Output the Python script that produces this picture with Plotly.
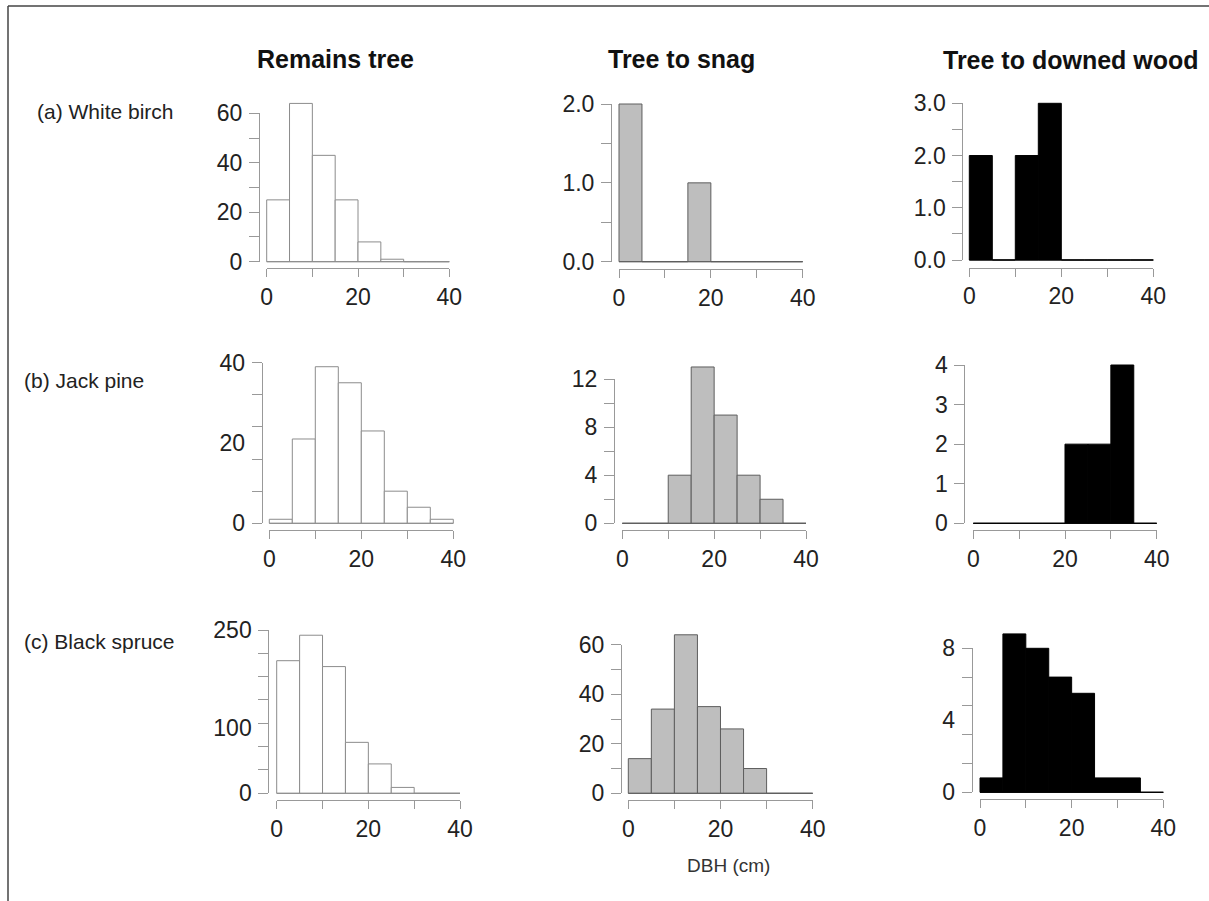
import plotly.graph_objects as go

W, H = 1209, 901

# ---------------- data ----------------
bin_edges = [0, 5, 10, 15, 20, 25, 30, 35, 40]
x_tickvals = [0, 10, 20, 30, 40]
x_ticktext = ["0", "", "20", "", "40"]

col_titles = ["Remains tree", "Tree to snag", "Tree to downed wood"]
row_labels = ["(a) White birch", "(b) Jack pine", "(c) Black spruce"]
x_title = "DBH (cm)"

birch_remain = [25, 64, 43, 25, 8, 1, 0, 0]
birch_snag = [2, 0, 0, 1, 0, 0, 0, 0]
birch_down = [2, 0, 2, 3, 0, 0, 0, 0]
pine_remain = [1, 21, 39, 35, 23, 8, 4, 1]
pine_snag = [0, 0, 4, 13, 9, 4, 2, 0]
pine_down = [0, 0, 0, 0, 2, 2, 4, 0]
spruce_remain = [203, 242, 194, 78, 45, 9, 0, 0]
spruce_snag = [14, 34, 64, 35, 26, 10, 0, 0]
spruce_down = [0.8, 8.8, 8.0, 6.4, 5.5, 0.8, 0.8, 0]

# y tick marks, labelled ticks and their texts
birch_remain_marks = [0, 10, 20, 30, 40, 50, 60]
birch_remain_labels = [0, 20, 40, 60]
birch_remain_texts = ["0", "20", "40", "60"]
birch_snag_marks = [0, 0.5, 1, 1.5, 2]
birch_snag_labels = [0, 1, 2]
birch_snag_texts = ["0.0", "1.0", "2.0"]
birch_down_marks = [0, 0.5, 1, 1.5, 2, 2.5, 3]
birch_down_labels = [0, 1, 2, 3]
birch_down_texts = ["0.0", "1.0", "2.0", "3.0"]
pine_remain_marks = [0, 8, 16, 24, 32, 40]
pine_remain_labels = [0, 20, 40]
pine_remain_texts = ["0", "20", "40"]
pine_snag_marks = [0, 2, 4, 6, 8, 10, 12]
pine_snag_labels = [0, 4, 8, 12]
pine_snag_texts = ["0", "4", "8", "12"]
pine_down_marks = [0, 1, 2, 3, 4]
pine_down_labels = [0, 1, 2, 3, 4]
pine_down_texts = ["0", "1", "2", "3", "4"]
spruce_remain_marks = [0, 35.7, 71.4, 107.1, 142.9, 178.6, 214.3, 250]
spruce_remain_labels = [0, 100, 250]
spruce_remain_texts = ["0", "100", "250"]
spruce_snag_marks = [0, 10, 20, 30, 40, 50, 60]
spruce_snag_labels = [0, 20, 40, 60]
spruce_snag_texts = ["0", "20", "40", "60"]
spruce_down_marks = [0, 1.6, 3.2, 4.8, 6.4, 8]
spruce_down_labels = [0, 4, 8]
spruce_down_texts = ["0", "4", "8"]

panels = [
    [(birch_remain, birch_remain_marks, birch_remain_labels, birch_remain_texts),
     (birch_snag, birch_snag_marks, birch_snag_labels, birch_snag_texts),
     (birch_down, birch_down_marks, birch_down_labels, birch_down_texts)],
    [(pine_remain, pine_remain_marks, pine_remain_labels, pine_remain_texts),
     (pine_snag, pine_snag_marks, pine_snag_labels, pine_snag_texts),
     (pine_down, pine_down_marks, pine_down_labels, pine_down_texts)],
    [(spruce_remain, spruce_remain_marks, spruce_remain_labels, spruce_remain_texts),
     (spruce_snag, spruce_snag_marks, spruce_snag_labels, spruce_snag_texts),
     (spruce_down, spruce_down_marks, spruce_down_labels, spruce_down_texts)],
]

# ---------------- layout geometry (pixels) ----------------
# yl: y-axis line x, y0: pixel of value 0, yt: pixel of top tick,
# x0/x40: pixel of DBH 0 and 40, xl: x-axis line y
geom = [
    [dict(yl=259, y0=261.7, yt=113.3, x0=266.7, x40=449.3, xl=268.3),
     dict(yl=611, y0=261.7, yt=104, x0=619, x40=802.7, xl=269),
     dict(yl=962.3, y0=260, yt=103.3, x0=969.3, x40=1153.3, xl=267.7)],
    [dict(yl=261.7, y0=523.3, yt=362.7, x0=269.3, x40=453.3, xl=530.3),
     dict(yl=614, y0=523.3, yt=379, x0=622.3, x40=806, xl=530.3),
     dict(yl=964.3, y0=523.3, yt=365, x0=973.3, x40=1156.7, xl=530.3)],
    [dict(yl=268.3, y0=793.3, yt=630, x0=276.7, x40=460, xl=800),
     dict(yl=621, y0=793.3, yt=644.7, x0=628.3, x40=812.7, xl=800),
     dict(yl=971.7, y0=792.3, yt=648.3, x0=980, x40=1163.3, xl=799.3)],
]

styles = [
    dict(fill="white", line="#8c8c8c"),
    dict(fill="#bebebe", line="#5e5e5e"),
    dict(fill="black", line="black"),
]
AXIS_COLOR = "#999999"
FONT = "Liberation Sans, Arial, sans-serif"
TICK_FONT = dict(family=FONT, size=23, color="#222222")


def fx(px):
    return px / W


def fy(py):
    return 1 - py / H


def xname(i):
    return "x" if i == 1 else f"x{i}"


def yname(i):
    return "y" if i == 1 else f"y{i}"


def xkey(i):
    return "xaxis" if i == 1 else f"xaxis{i}"


def ykey(i):
    return "yaxis" if i == 1 else f"yaxis{i}"


fig = go.Figure()
layout_axes = {}
centers = [(bin_edges[i] + bin_edges[i + 1]) / 2 for i in range(len(bin_edges) - 1)]
widths = [bin_edges[i + 1] - bin_edges[i] for i in range(len(bin_edges) - 1)]

k = 0
for r in range(3):
    for c in range(3):
        counts, marks, labvals, labtexts = panels[r][c]
        g = geom[r][c]
        st = styles[c]
        top = marks[-1]
        sx = (g["x40"] - g["x0"]) / 40.0
        sy = (g["y0"] - g["yt"]) / top

        ixD, ixA = 2 * k + 1, 2 * k + 2
        iyD, iyA, iyL = 3 * k + 1, 3 * k + 2, 3 * k + 3

        padx, padb, padt = 4, 4, 45
        layout_axes[xkey(ixD)] = dict(
            domain=[fx(g["x0"] - padx), fx(g["x40"] + padx)],
            range=[-padx / sx, 40 + padx / sx],
            anchor=yname(iyD), visible=False, fixedrange=True, automargin=False)
        layout_axes[ykey(iyD)] = dict(
            domain=[fy(g["y0"] + padb), fy(g["yt"] - padt)],
            range=[-padb / sy, top + padt / sy],
            anchor=xname(ixD), visible=False, fixedrange=True, automargin=False)

        layout_axes[xkey(ixA)] = dict(
            domain=[fx(g["x0"]), fx(g["x40"])], range=[0, 40],
            anchor="free", position=fy(g["xl"]),
            showline=True, linecolor=AXIS_COLOR, linewidth=1,
            ticks="outside", ticklen=8, tickwidth=1, tickcolor=AXIS_COLOR,
            tickmode="array", tickvals=x_tickvals, ticktext=x_ticktext,
            tickfont=TICK_FONT, showgrid=False, zeroline=False, fixedrange=True,
            automargin=False)
        layout_axes[ykey(iyA)] = dict(
            domain=[fy(g["y0"]), fy(g["yt"])], range=[0, top],
            anchor="free", position=fx(g["yl"]),
            showline=True, linecolor=AXIS_COLOR, linewidth=1,
            ticks="outside", ticklen=10, tickwidth=1, tickcolor=AXIS_COLOR,
            tickmode="array", tickvals=marks, showticklabels=False,
            showgrid=False, zeroline=False, fixedrange=True, automargin=False)
        layout_axes[ykey(iyL)] = dict(
            overlaying=yname(iyA), range=[0, top],
            anchor="free", position=fx(g["yl"]),
            showline=False, ticks="outside", ticklen=10,
            tickcolor="rgba(0,0,0,0)",
            tickmode="array", tickvals=labvals, ticktext=labtexts,
            tickfont=TICK_FONT, ticklabelstandoff=2,
            showgrid=False, zeroline=False, fixedrange=True, automargin=False)

        fig.add_trace(go.Bar(
            x=centers, y=counts, width=widths,
            marker=dict(color=st["fill"], line=dict(color=st["line"], width=1)),
            xaxis=xname(ixD), yaxis=yname(iyD), showlegend=False, hoverinfo="skip"))
        fig.add_trace(go.Scatter(
            x=[bin_edges[0], bin_edges[-1]], y=[0, 0], mode="lines",
            line=dict(color=st["line"], width=1),
            xaxis=xname(ixD), yaxis=yname(iyD), showlegend=False, hoverinfo="skip"))
        for yy in (iyA, iyL):
            fig.add_trace(go.Scatter(
                x=[None], y=[None], mode="markers",
                xaxis=xname(ixA), yaxis=yname(yy), showlegend=False, hoverinfo="skip"))
        k += 1

annotations = []
title_pos = [(335, 59), (681, 59), (1071, 60)]
for t, (px, py) in zip(col_titles, title_pos):
    annotations.append(dict(
        text=f"<b>{t}</b>", x=fx(px), y=fy(py), xref="paper", yref="paper",
        xanchor="center", yanchor="middle", showarrow=False,
        font=dict(family=FONT, size=25, color="#111111")))
row_pos = [(35, 112), (22, 380), (22, 641)]
for t, (px, py) in zip(row_labels, row_pos):
    annotations.append(dict(
        text=t, x=fx(px), y=fy(py), xref="paper", yref="paper",
        xanchor="left", yanchor="middle", showarrow=False,
        font=dict(family=FONT, size=21, color="#222222")))
annotations.append(dict(
    text=x_title, x=fx(728), y=fy(865), xref="paper", yref="paper",
    xanchor="center", yanchor="middle", showarrow=False,
    font=dict(family=FONT, size=19, color="#333333")))

shapes = [
    dict(type="line", xref="paper", yref="paper", x0=fx(8), y0=fy(6), x1=1, y1=fy(6),
         line=dict(color="#444444", width=1.5)),
    dict(type="line", xref="paper", yref="paper", x0=fx(8), y0=fy(6), x1=fx(8), y1=0,
         line=dict(color="#444444", width=1.5)),
]

fig.update_layout(
    width=W, height=H, margin=dict(l=0, r=0, t=0, b=0, pad=0, autoexpand=False),
    paper_bgcolor="white", plot_bgcolor="rgba(0,0,0,0)",
    bargap=0, barmode="overlay", showlegend=False,
    annotations=annotations, shapes=shapes, **layout_axes)

fig.write_html(
    "out.html",
    config={"displayModeBar": False, "staticPlot": True},
    post_script="document.body.style.margin='0';document.body.style.overflow='hidden';")
